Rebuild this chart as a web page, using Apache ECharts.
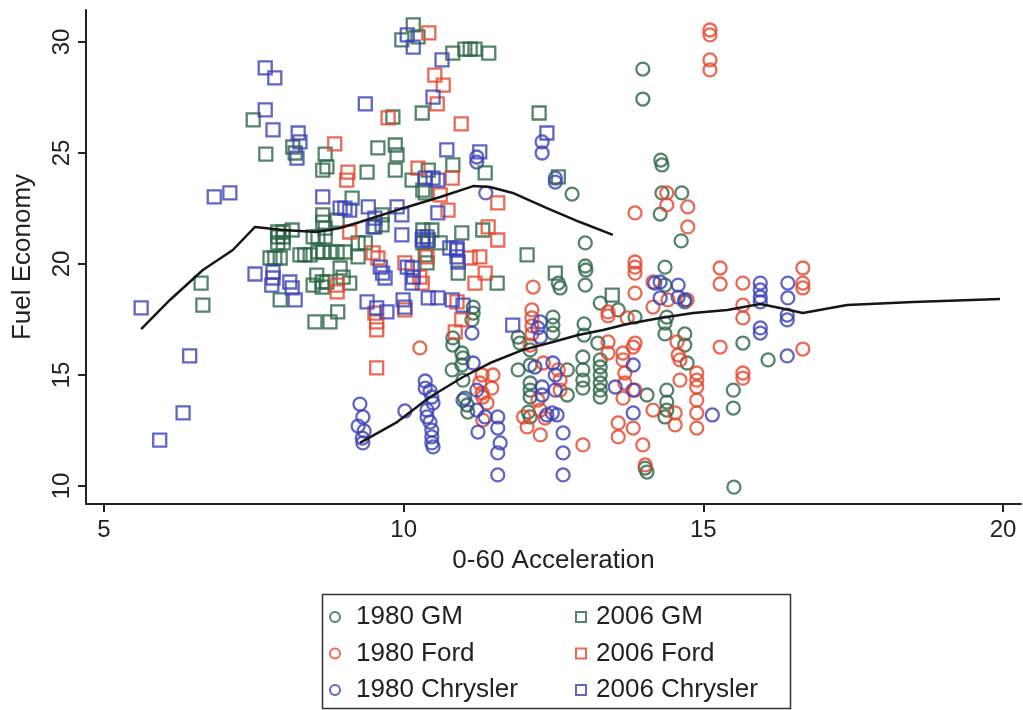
<!DOCTYPE html>
<html><head><meta charset="utf-8">
<script src="https://cdn.jsdelivr.net/npm/echarts@6/dist/echarts.min.js"></script>
<style>html,body{margin:0;padding:0;background:#fff}#c{width:1023px;height:710px}</style>
</head><body><div id="c"></div><script>
const xTicks = [5, 10, 15, 20];
const yTicks = [10, 15, 20, 25, 30];
const xTitle = '0-60 Acceleration';
const yTitle = 'Fuel Economy';

const gm1980 = [[12.81,23.15],[13.99,28.78],[13.99,27.43],[14.29,24.68],[14.31,24.46],[14.31,23.2],[14.64,23.2],[14.28,22.25],[14.63,21.04],[13.03,20.95],[13.03,19.91],[13.04,19.73],[13.03,19.05],[12.58,19.14],[12.61,18.92],[14.36,19.86],[14.36,19.05],[14.69,18.29],[13.28,18.24],[13.58,17.93],[13.86,17.61],[13.01,17.3],[13.01,16.8],[13.24,16.44],[14.39,17.61],[14.36,17.34],[14.36,16.85],[14.69,16.85],[14.69,16.35],[14.73,15.54],[15.66,16.44],[16.08,15.68],[12.99,15.81],[13.28,15.68],[13.28,15.36],[13.28,15.0],[13.28,14.64],[13.28,14.32],[13.28,14.01],[12.99,15.23],[12.99,14.77],[12.99,14.41],[12.73,15.23],[12.73,14.1],[14.06,14.1],[14.39,14.32],[14.39,13.78],[14.39,13.42],[14.36,13.11],[15.5,14.32],[15.5,13.51],[15.51,9.95],[14.03,10.81],[14.06,10.63],[11.16,18.06],[11.16,17.79],[11.14,17.48],[10.82,16.67],[10.82,16.35],[10.97,15.99],[10.99,15.77],[10.97,15.45],[10.81,15.23],[10.99,14.77],[11.02,13.96],[11.06,13.65],[11.07,13.33],[11.91,16.71],[11.94,16.44],[11.91,15.23],[12.11,16.13],[12.11,15.45],[12.11,14.64],[12.11,14.32],[12.11,14.01],[12.08,13.33],[12.11,13.11],[12.49,17.61],[12.49,17.25],[12.49,16.89]];

const ford1980 = [[15.11,30.54],[15.11,30.32],[15.11,29.19],[15.11,28.74],[13.86,22.3],[14.39,23.2],[14.39,22.66],[14.74,22.57],[14.74,21.67],[13.86,20.09],[13.86,19.86],[13.86,19.59],[13.86,18.69],[14.16,19.19],[14.41,18.38],[14.16,18.06],[14.73,18.38],[15.28,19.82],[15.28,19.1],[15.66,19.14],[15.66,18.15],[15.66,17.57],[13.41,17.84],[13.41,17.66],[13.73,17.57],[13.41,16.49],[13.41,15.99],[13.86,16.44],[13.66,15.99],[13.66,15.68],[13.69,15.09],[13.69,14.64],[13.66,13.96],[13.86,14.32],[14.16,13.42],[14.53,13.29],[14.53,12.75],[14.56,16.49],[14.58,15.9],[14.61,15.68],[14.61,14.77],[14.89,15.09],[14.89,14.77],[14.89,14.46],[14.89,13.87],[14.89,13.29],[14.89,12.61],[15.28,16.26],[15.66,15.09],[15.66,14.86],[13.83,12.61],[13.58,12.84],[13.58,12.21],[13.99,11.85],[14.03,10.95],[12.99,11.85],[16.66,19.82],[16.66,19.14],[16.66,18.92],[16.66,16.17],[12.16,18.96],[12.14,17.93],[12.14,17.57],[12.14,17.21],[12.14,16.85],[12.11,16.35],[12.33,15.54],[12.24,13.87],[12.28,13.42],[12.36,13.06],[12.0,13.11],[12.06,12.66],[12.28,12.3],[10.27,16.22],[11.31,15.0],[11.49,15.0],[11.47,14.41],[11.31,14.19],[11.27,14.64],[11.32,14.01],[11.39,13.74],[11.32,12.97],[12.58,15.23],[12.61,14.77],[12.61,14.32],[13.83,16.26]];

const chrysler1980 = [[12.31,25.5],[12.31,25.0],[11.22,24.82],[11.22,24.59],[12.53,23.87],[12.53,23.69],[11.37,23.2],[9.27,13.69],[9.32,13.11],[9.24,12.7],[9.34,12.48],[9.31,12.16],[9.32,11.94],[10.02,13.38],[10.36,14.73],[10.36,14.41],[10.44,14.28],[10.47,14.01],[10.49,13.74],[10.39,13.42],[10.39,13.11],[10.44,12.88],[10.47,12.52],[10.47,12.21],[10.47,11.94],[10.49,11.76],[11.14,16.89],[11.16,15.54],[10.99,13.87],[11.22,14.32],[11.24,12.43],[11.22,13.42],[11.36,13.11],[11.57,13.11],[11.57,12.61],[11.61,11.94],[11.57,11.49],[11.57,10.5],[12.28,17.39],[12.24,17.12],[12.28,16.71],[12.19,15.36],[12.31,14.46],[12.31,14.1],[12.49,15.54],[12.53,15.0],[12.48,13.29],[12.39,13.2],[12.56,13.2],[12.66,12.39],[12.66,11.49],[12.66,10.5],[12.53,14.32],[13.53,14.46],[13.83,15.45],[13.83,14.32],[13.83,13.29],[14.28,19.19],[14.58,19.05],[14.28,18.47],[14.58,18.51],[14.69,18.38],[14.19,19.14],[15.15,13.2],[15.95,19.14],[15.95,18.83],[15.95,18.51],[15.95,18.29],[15.95,17.12],[15.95,16.89],[16.41,19.14],[16.41,18.47],[16.4,17.7],[16.4,17.48],[16.4,15.86]];

const gm2006 = [[10.16,30.77],[9.97,30.09],[10.24,30.23],[10.82,29.5],[11.02,29.68],[11.11,29.68],[11.19,29.68],[11.42,29.5],[9.82,26.62],[10.31,26.8],[12.26,26.8],[7.49,26.49],[7.7,24.95],[8.15,25.27],[8.19,25.0],[8.69,24.95],[8.65,24.23],[8.72,24.37],[9.39,24.14],[9.57,25.23],[9.86,25.36],[9.89,24.91],[9.86,24.23],[10.14,23.78],[10.32,23.33],[10.41,24.23],[10.82,24.46],[11.36,24.1],[12.58,23.92],[9.14,22.97],[10.36,23.2],[8.65,22.21],[8.65,21.89],[8.69,21.62],[8.89,21.98],[9.64,22.21],[8.14,21.53],[7.9,21.44],[7.99,21.44],[7.9,21.22],[7.99,21.22],[7.9,20.95],[7.99,20.95],[8.49,21.22],[8.57,21.22],[8.69,21.22],[10.32,21.53],[10.39,21.22],[10.32,20.95],[9.52,21.67],[9.64,21.76],[9.36,20.95],[10.47,21.53],[10.97,21.4],[11.32,21.53],[9.24,20.95],[9.02,20.54],[10.61,20.95],[12.06,20.41],[7.77,20.27],[7.85,20.27],[7.94,20.27],[8.27,20.41],[8.35,20.41],[8.44,20.41],[8.57,20.54],[8.65,20.54],[8.77,20.54],[8.89,20.54],[9.24,20.32],[10.36,20.41],[10.39,20.05],[7.94,18.38],[8.55,19.5],[8.64,19.19],[8.72,19.19],[8.64,18.96],[9.1,19.14],[8.99,19.41],[8.94,19.82],[8.49,19.05],[8.52,17.39],[8.77,17.39],[8.9,17.84],[6.62,19.14],[6.65,18.15],[12.53,19.59],[10.91,19.59],[11.56,19.14],[13.48,18.6]];

const ford2006 = [[10.42,30.41],[10.52,28.51],[10.66,28.06],[10.56,27.21],[9.74,26.58],[10.96,26.31],[8.85,25.41],[9.07,24.14],[9.05,23.78],[10.24,24.32],[10.81,23.87],[10.61,23.11],[10.74,22.43],[11.57,22.75],[9.1,21.44],[11.41,21.67],[11.57,21.08],[10.39,20.32],[9.49,20.5],[9.57,20.27],[10.02,20.05],[10.27,19.41],[10.31,19.14],[8.89,19.05],[8.89,18.74],[9.52,17.79],[9.55,17.39],[9.55,17.03],[10.02,17.93],[9.55,15.32],[10.86,16.94],[11.27,20.32],[11.11,20.27],[11.19,19.14],[11.36,19.59],[10.89,18.29],[10.97,17.48]];

const chrysler2006 = [[5.62,18.02],[5.93,12.07],[6.32,13.29],[6.43,15.86],[6.84,23.02],[7.1,23.2],[7.69,28.83],[7.85,28.38],[7.69,26.94],[7.82,26.04],[8.24,25.9],[8.27,25.5],[8.22,24.77],[9.36,27.21],[10.06,30.32],[10.16,29.77],[10.64,29.19],[10.49,27.52],[8.65,23.02],[8.94,22.52],[9.02,22.52],[9.1,22.43],[9.41,22.57],[9.52,22.07],[9.89,22.57],[9.97,22.21],[9.97,21.31],[9.49,21.67],[10.72,25.14],[11.27,25.05],[10.49,23.87],[10.57,23.78],[10.36,23.87],[10.57,22.3],[10.31,21.08],[10.41,21.08],[10.77,20.72],[10.89,20.72],[12.39,25.9],[7.52,19.55],[7.82,19.64],[7.82,19.37],[7.8,19.05],[8.1,19.19],[8.14,18.92],[8.19,18.38],[9.61,19.86],[9.65,19.59],[9.69,19.37],[10.06,19.86],[10.14,19.82],[10.16,19.41],[10.14,19.14],[9.39,18.29],[9.55,18.02],[9.72,17.84],[9.99,18.38],[10.02,18.06],[11.82,17.25],[10.41,18.47],[10.57,18.47],[10.81,18.38],[10.99,18.15],[10.89,20.63],[10.89,20.32],[10.91,20.09],[10.32,21.22]];

const smooth2006 = [[5.62,17.07],[6.1,18.38],[6.65,19.73],[7.15,20.63],[7.52,21.67],[7.99,21.53],[8.55,21.44],[8.94,21.62],[9.27,21.89],[10.06,22.57],[10.61,23.02],[11.16,23.51],[11.44,23.47],[11.82,23.2],[12.39,22.52],[12.94,21.89],[13.49,21.31]];
const smooth1980 = [[9.27,11.94],[9.89,12.88],[10.44,14.01],[10.99,14.91],[11.44,15.54],[11.99,16.13],[12.49,16.49],[12.91,16.8],[13.33,17.03],[13.73,17.3],[14.28,17.57],[14.83,17.79],[15.4,17.93],[15.95,18.2],[16.28,18.02],[16.66,17.79],[17.4,18.15],[18.5,18.29],[19.95,18.42]];

const GREEN = '#2a6546', RED = '#e5452a', BLUE = '#3a40b6';
const FONT = '"Liberation Sans", Arial, Helvetica, sans-serif';

function scat(name, data, color, symbol) {
  return {
    name, type: 'scatter', data, symbol, symbolSize: 13,
    itemStyle: { color: 'rgba(0,0,0,0)', borderColor: color, borderWidth: 2.3 },
    emphasis: { disabled: true }, z: 2
  };
}
function lineS(data) {
  return {
    type: 'line', data, showSymbol: false, symbol: 'none', smooth: false,
    lineStyle: { color: '#161616', width: 2.5 }, z: 5, silent: true
  };
}
function legItem(name, color, icon) {
  return { name, icon, itemStyle: { color: 'rgba(0,0,0,0)', borderColor: color, borderWidth: 2 } };
}
const legendCommon = {
  orient: 'vertical', top: 604, height: 104, padding: 0,
  itemWidth: 10, itemHeight: 10, itemGap: 10.5,
  selectedMode: false
};
const legText = { fontSize: 26, fontFamily: FONT, color: '#222', lineHeight: 26 };

const chart = echarts.init(document.getElementById('c'), null, { renderer: 'canvas' });
chart.setOption({
  animation: false,
  backgroundColor: '#fff',
  grid: { left: 86, right: 2, top: 10, bottom: 206, containLabel: false },
  xAxis: {
    type: 'value', min: 4.7, max: 20.3,
    name: xTitle, nameLocation: 'middle', nameGap: 44,
    nameTextStyle: { fontSize: 26, fontFamily: FONT, color: '#222' },
    axisLine: { show: true, onZero: false, lineStyle: { color: '#222', width: 2 } },
    axisTick: { show: true, length: 8, customValues: xTicks, lineStyle: { color: '#222', width: 2 } },
    axisLabel: { customValues: xTicks, fontSize: 24, fontFamily: FONT, color: '#222', margin: 14 },
    splitLine: { show: false }
  },
  yAxis: {
    type: 'value', min: 9.19, max: 31.44,
    name: yTitle, nameLocation: 'middle', nameGap: 50,
    nameTextStyle: { fontSize: 26, fontFamily: FONT, color: '#222' },
    axisLine: { show: true, onZero: false, lineStyle: { color: '#222', width: 2 } },
    axisTick: { show: true, length: 8, customValues: yTicks, lineStyle: { color: '#222', width: 2 } },
    axisLabel: { customValues: yTicks, rotate: 90, fontSize: 24, fontFamily: FONT, color: '#222', margin: 12 },
    splitLine: { show: false }
  },
  legend: [
    Object.assign({}, legendCommon, {
      left: 329, data: [legItem('1980 GM', GREEN, 'circle'), legItem('1980 Ford', RED, 'circle'), legItem('1980 Chrysler', BLUE, 'circle')],
      textStyle: Object.assign({}, legText, { padding: [0, 0, 0, 11] })
    }),
    Object.assign({}, legendCommon, {
      left: 575, data: [legItem('2006 GM', GREEN, 'rect'), legItem('2006 Ford', RED, 'rect'), legItem('2006 Chrysler', BLUE, 'rect')],
      textStyle: Object.assign({}, legText, { padding: [0, 0, 0, 5] })
    })
  ],
  graphic: [{
    type: 'rect', left: 320, top: 592, silent: true,
    shape: { width: 468, height: 114 },
    style: { fill: 'none', stroke: '#333', lineWidth: 1.5 }
  }],
  series: [
    scat('1980 GM', gm1980, GREEN, 'circle'),
    scat('1980 Ford', ford1980, RED, 'circle'),
    scat('1980 Chrysler', chrysler1980, BLUE, 'circle'),
    scat('2006 GM', gm2006, GREEN, 'rect'),
    scat('2006 Ford', ford2006, RED, 'rect'),
    scat('2006 Chrysler', chrysler2006, BLUE, 'rect'),
    lineS(smooth2006),
    lineS(smooth1980)
  ]
});
</script></body></html>
